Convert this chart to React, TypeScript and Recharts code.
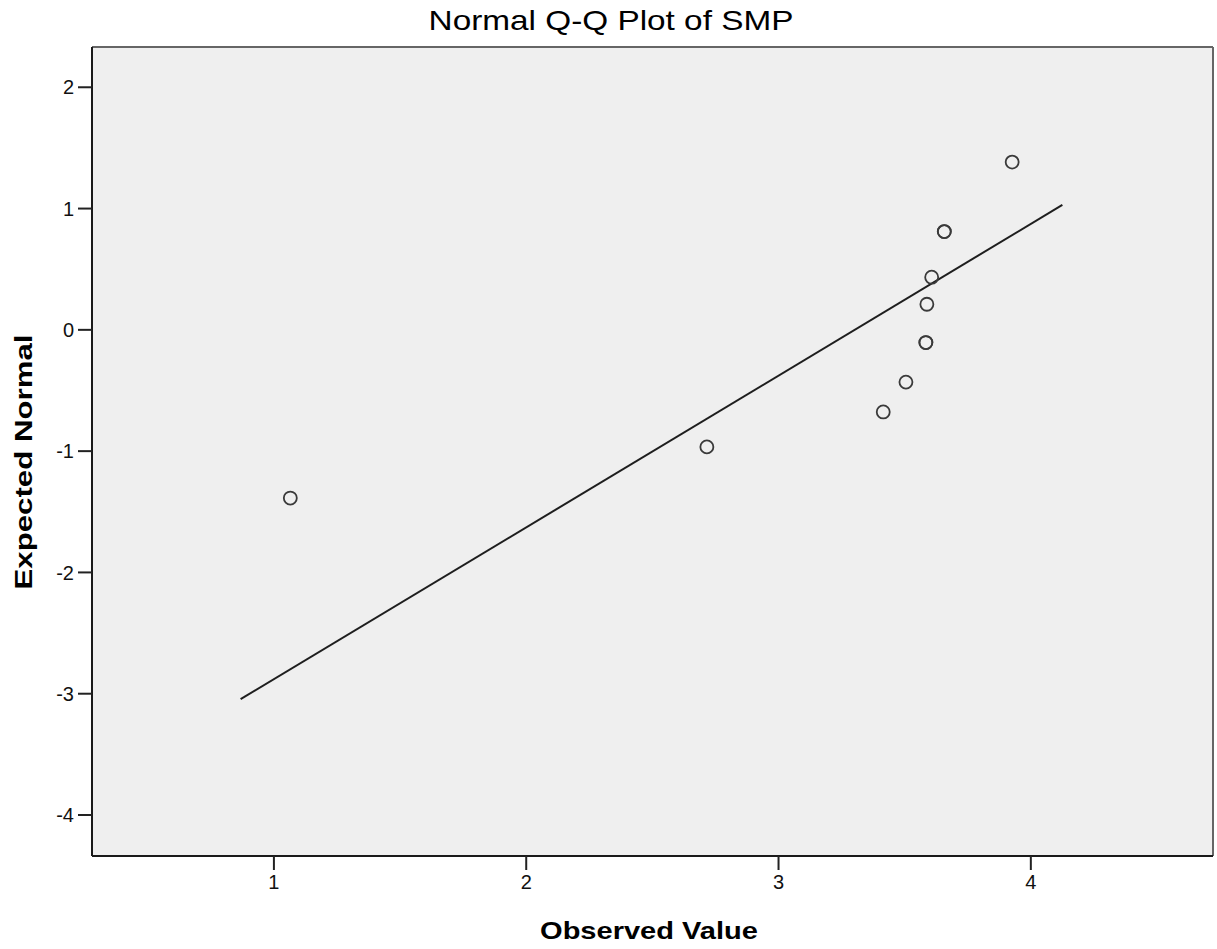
import React from "react";
import {
  ScatterChart,
  Scatter,
  XAxis,
  YAxis,
  ReferenceArea,
  ReferenceLine,
} from "recharts";

// observed values (SMP) and their expected normal scores
const observed = [1.065, 2.716, 3.415, 3.505, 3.584, 3.584, 3.588, 3.607, 3.657, 3.657, 3.926];
const expected = [-1.387, -0.965, -0.677, -0.431, -0.105, -0.105, 0.211, 0.434, 0.81, 0.81, 1.383];

// reference line ends
const lineX = [0.868, 4.125];
const lineY = [-3.045, 1.03];

const xTicks = [1, 2, 3, 4];
const yTicks = [-4, -3, -2, -1, 0, 1, 2];
const xDomain = [0.279, 4.722];
const yDomain = [-4.338, 2.332];

const font = "'Liberation Sans', Arial, sans-serif";

const points = observed.map((x, i) => ({ x, y: expected[i] }));

const Ring = (props: any) => (
  <circle cx={props.cx} cy={props.cy} r={6.5} fill="none" stroke="#3a3a3a" strokeWidth={1.8} />
);

export default function App() {
  return (
    <div style={{ position: "absolute", left: 0, top: 0, width: 1217, height: 949, background: "#fff", fontFamily: font }}>
      <div
        style={{
          position: "absolute",
          left: 411,
          width: 400,
          top: 4,
          textAlign: "center",
          fontSize: 28,
          lineHeight: "34px",
          color: "#000",
          transform: "scaleX(1.19)",
        }}
      >
        Normal Q-Q Plot of SMP
      </div>
      <ScatterChart width={1217} height={949} margin={{ top: 47, right: 4, left: 0, bottom: 0 }}>
        <XAxis
          type="number"
          dataKey="x"
          domain={xDomain}
          ticks={xTicks}
          allowDataOverflow
          height={93}
          tickSize={14}
          tickMargin={5}
          axisLine={false}
          tickLine={{ stroke: "#222", strokeWidth: 2 }}
          tick={{ fill: "#111", fontSize: 20, fontFamily: font }}
        />
        <YAxis
          type="number"
          dataKey="y"
          domain={yDomain}
          ticks={yTicks}
          allowDataOverflow
          width={92}
          tickSize={14}
          tickMargin={4}
          axisLine={false}
          tickLine={{ stroke: "#222", strokeWidth: 2 }}
          tick={{ fill: "#111", fontSize: 20, fontFamily: font }}
        />
        <ReferenceArea
          x1={xDomain[0]}
          x2={xDomain[1]}
          y1={yDomain[0]}
          y2={yDomain[1]}
          fill="#efefef"
          fillOpacity={1}
          stroke="none"
        />
        <ReferenceLine y={yDomain[1]} stroke="#666" strokeWidth={2} />
        <ReferenceLine x={xDomain[1]} stroke="#666" strokeWidth={2} />
        <ReferenceLine y={yDomain[0]} stroke="#1a1a1a" strokeWidth={2} />
        <ReferenceLine x={xDomain[0]} stroke="#1a1a1a" strokeWidth={2} />
        <ReferenceLine
          segment={[
            { x: lineX[0], y: lineY[0] },
            { x: lineX[1], y: lineY[1] },
          ]}
          stroke="#1e1e1e"
          strokeWidth={2}
        />
        <Scatter data={points} shape={Ring} isAnimationActive={false} />
      </ScatterChart>
      <div
        style={{
          position: "absolute",
          left: 499,
          width: 300,
          top: 917,
          textAlign: "center",
          fontSize: 24,
          lineHeight: "28px",
          fontWeight: "bold",
          transform: "scaleX(1.21)",
        }}
      >
        Observed Value
      </div>
      <div
        style={{
          position: "absolute",
          left: 24 - 150,
          top: 462 - 14,
          width: 300,
          textAlign: "center",
          fontSize: 24,
          lineHeight: "28px",
          fontWeight: "bold",
          transform: "rotate(-90deg) scaleX(1.3)",
          transformOrigin: "150px 14px",
        }}
      >
        Expected Normal
      </div>
    </div>
  );
}
